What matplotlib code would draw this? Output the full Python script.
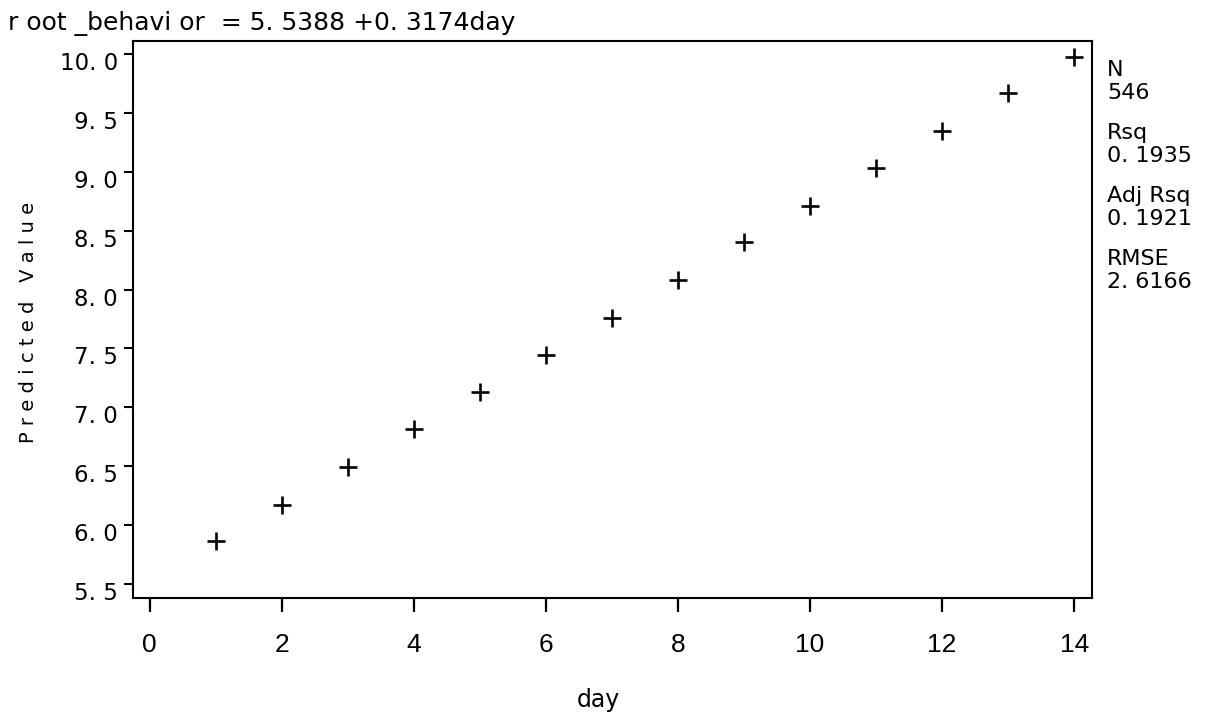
import matplotlib
matplotlib.use("Agg")
import matplotlib.pyplot as plt
import matplotlib.transforms as mtransforms

# Predicted values per day
days = [1, 2, 3, 4, 5, 6, 7, 8, 9, 10, 11, 12, 13, 14]
predicted = [5.86, 6.17, 6.49, 6.81, 7.13, 7.44, 7.76, 8.08, 8.40, 8.71, 9.03, 9.35, 9.67, 9.98]

x_ticks = [0, 2, 4, 6, 8, 10, 12, 14]
y_ticks = [5.5, 6.0, 6.5, 7.0, 7.5, 8.0, 8.5, 9.0, 9.5, 10.0]
y_tick_labels = ["5. 5", "6. 0", "6. 5", "7. 0", "7. 5", "8. 0", "8. 5", "9. 0", "9. 5", "10. 0"]

title_text = "r oot _behavi or  = 5. 5388 +0. 3174day"
stats = [("N", "546"), ("Rsq", "0. 1935"), ("Adj Rsq", "0. 1921"), ("RMSE", "2. 6166")]

plt.rcParams["font.family"] = ["Liberation Sans", "DejaVu Sans"]

W, H = 1211, 713
fig = plt.figure(figsize=(W / 100, H / 100), dpi=100)
ax = fig.add_axes([133 / W, 1 - 598 / H, (1092 - 133) / W, (598 - 41) / H])

ax.plot(days, predicted, linestyle="none", marker="+", markersize=12.5,
        markeredgewidth=1.9, color="black")

ax.set_xlim(-0.25, 14.27)
ax.set_ylim(5.377, 10.113)

for s in ax.spines.values():
    s.set_linewidth(1.5)

ax.set_xticks(x_ticks)
ax.set_xticklabels([str(t) for t in x_ticks], fontsize=19)
ax.tick_params(axis="x", direction="out", length=10, width=1.6, pad=15)

ax.set_yticks(y_ticks)
ax.set_yticklabels(y_tick_labels, fontsize=16.5, family="DejaVu Sans")
ax.tick_params(axis="y", direction="out", length=6.5, width=1.5, pad=4.3)
offset = mtransforms.ScaledTranslation(0, -7 / 100, fig.dpi_scale_trans)
for lbl in ax.get_yticklabels():
    lbl.set_transform(lbl.get_transform() + offset)

fig.text(8 / W, 1 - 24 / H, title_text, fontsize=18, family="DejaVu Sans",
         ha="left", va="center")
fig.text(598 / W, 1 - 700 / H, "day", fontsize=17, family="DejaVu Sans",
         ha="center", va="center")
fig.text(29 / W, 1 - 322 / H, "P r e d i c t e d   V a l u e", fontsize=14,
         family="DejaVu Sans", rotation=90, ha="center", va="center")

y0 = 70
for name, val in stats:
    fig.text(1107 / W, 1 - y0 / H, name, fontsize=16, family="DejaVu Sans",
             ha="left", va="center")
    fig.text(1107 / W, 1 - (y0 + 23) / H, val, fontsize=16, family="DejaVu Sans",
             ha="left", va="center")
    y0 += 63

fig.savefig("out.png", dpi=100)
